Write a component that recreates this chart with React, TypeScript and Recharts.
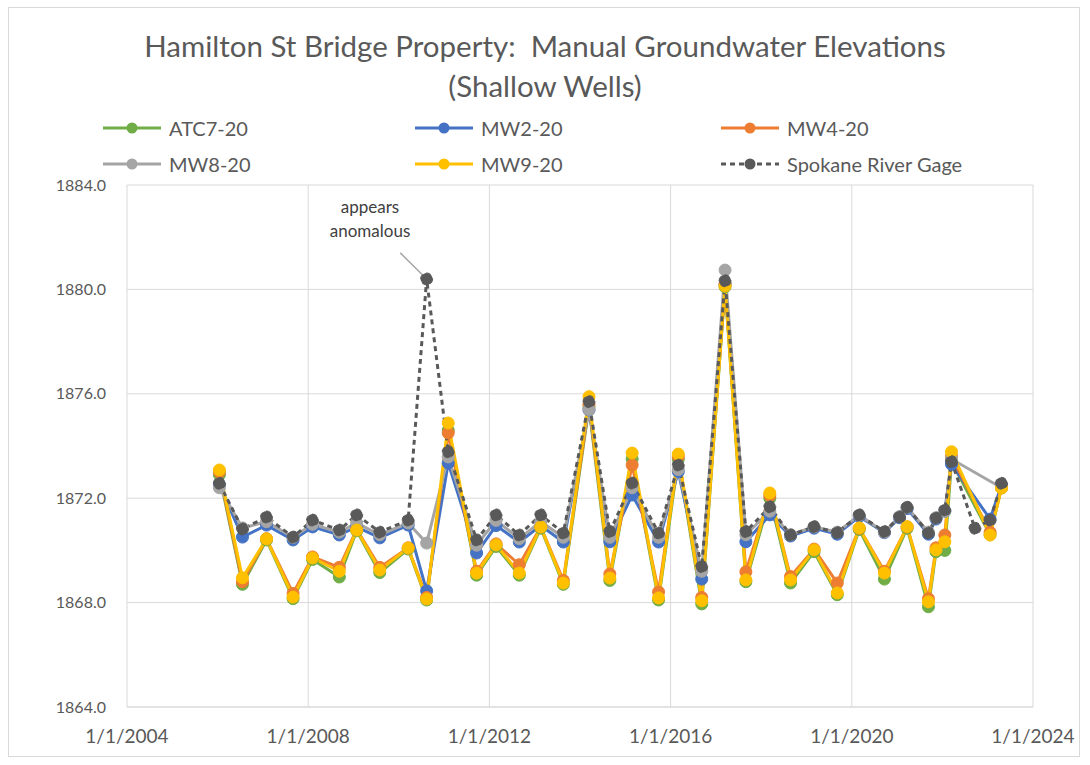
import {
  LineChart,
  Line,
  XAxis,
  YAxis,
  CartesianGrid,
  ReferenceLine,
} from 'recharts';

// sampling dates (approximate)
const DATES = [
  '2006-01-15', '2006-07-20', '2007-01-30', '2007-09-01', '2008-02-05', '2008-09-08',
  '2009-01-26', '2009-07-31', '2010-03-17', '2010-08-13', '2011-02-03', '2011-09-20',
  '2012-02-24', '2012-08-29', '2013-02-18', '2013-08-19', '2014-03-14', '2014-08-29',
  '2015-02-25', '2015-09-26', '2016-03-03', '2016-09-08', '2017-03-15', '2017-08-30',
  '2018-03-11', '2018-08-25', '2019-03-03', '2019-09-06', '2020-03-01', '2020-09-20',
  '2021-01-20', '2021-03-22', '2021-09-10', '2021-11-10', '2022-01-20', '2022-03-15',
  '2022-09-20', '2023-01-20', '2023-04-22',
];

const ATC7_20 = [
  1872.9, 1868.7, 1870.4, 1868.15, 1869.65, 1868.98, 1870.75, 1869.15, 1870.05, 1868.1,
  1874.6, 1869.05, 1870.15, 1869.05, 1870.85, 1868.7, 1875.5, 1868.85, 1873.5, 1868.1,
  1873.5, 1867.95, 1880.1, 1868.8, 1872.0, 1868.75, 1869.95, 1868.3, 1870.8, 1868.9,
  null, 1870.85, 1867.84, 1869.95, 1870.0, 1873.4, null, 1870.6, 1872.4,
];

const MW2_20 = [
  1872.5, 1870.51, 1870.97, 1870.4, 1870.9, 1870.59, 1870.9, 1870.48, 1870.97, 1868.45,
  1873.35, 1869.9, 1870.95, 1870.32, 1870.95, 1870.32, 1875.38, 1870.33, 1872.12, 1870.32,
  1873.02, 1868.9, 1880.2, 1870.33, 1871.36, 1870.55, 1870.85, 1870.62, 1871.3, 1870.68,
  1871.25, 1871.6, 1870.62, 1871.2, 1871.5, 1873.3, null, 1871.2, 1872.5,
];

const MW4_20 = [
  1873.0, 1868.8, 1870.45, 1868.35, 1869.75, 1869.35, 1870.8, 1869.35, 1870.1, 1868.2,
  1874.5, 1869.2, 1870.25, 1869.45, 1870.9, 1868.85, 1875.6, 1869.1, 1873.27, 1868.41,
  1873.6, 1868.2, 1880.2, 1869.18, 1872.1, 1869.0, 1870.05, 1868.75, 1870.85, 1869.2,
  null, 1870.9, 1868.15, 1870.1, 1870.59, 1873.6, null, 1870.7, 1872.4,
];

const MW8_20 = [
  1872.4, 1870.86, 1871.1, 1870.5, 1871.0, 1870.7, 1871.05, 1870.6, 1871.05, 1870.28,
  1873.58, 1870.2, 1871.15, 1870.45, 1871.1, 1870.5, 1875.4, 1870.5, 1872.4, 1870.5,
  1873.1, 1869.2, 1880.74, 1870.6, 1871.5, 1870.6, 1870.9, 1870.7, 1871.35, 1870.7,
  1871.3, 1871.65, 1870.7, 1871.25, 1871.5, 1873.5, null, null, 1872.4,
];

const MW9_20 = [
  1873.08, 1868.95, 1870.44, 1868.21, 1869.71, 1869.2, 1870.78, 1869.25, 1870.09, 1868.14,
  1874.88, 1869.13, 1870.21, 1869.13, 1870.9, 1868.75, 1875.89, 1868.94, 1873.73, 1868.18,
  1873.69, 1868.07, 1880.13, 1868.87, 1872.2, 1868.87, 1870.02, 1868.37, 1870.86, 1869.13,
  null, 1870.91, 1868.03, 1870.02, 1870.33, 1873.78, null, 1870.59, 1872.39,
];

const SPOKANE_GAGE = [
  1872.57, 1870.82, 1871.28, 1870.51, 1871.16, 1870.78, 1871.36, 1870.7, 1871.16, 1880.4,
  1873.78, 1870.4, 1871.36, 1870.59, 1871.36, 1870.67, 1875.7, 1870.72, 1872.58, 1870.67,
  1873.27, 1869.38, 1880.33, 1870.72, 1871.67, 1870.59, 1870.91, 1870.68, 1871.36, 1870.72,
  1871.28, 1871.65, 1870.67, 1871.24, 1871.55, 1873.4, 1870.85, 1871.16, 1872.57,
];

const X_TICKS = ['2004-01-01', '2008-01-01', '2012-01-01', '2016-01-01', '2020-01-01', '2024-01-01'];
const Y_TICKS = [1864, 1868, 1872, 1876, 1880, 1884];

const toTs = (s: string) => Date.parse(s + 'T00:00:00Z');

const SERIES = [
  { key: 'atc7', name: 'ATC7-20', color: '#70AD47', values: ATC7_20 },
  { key: 'mw2', name: 'MW2-20', color: '#4472C4', values: MW2_20 },
  { key: 'mw4', name: 'MW4-20', color: '#ED7D31', values: MW4_20 },
  { key: 'mw8', name: 'MW8-20', color: '#A5A5A5', values: MW8_20 },
  { key: 'mw9', name: 'MW9-20', color: '#FFC000', values: MW9_20 },
  { key: 'gage', name: 'Spokane River Gage', color: '#595959', values: SPOKANE_GAGE, dashed: true },
];

const data = DATES.map((d, i) => {
  const row: Record<string, number | null> = { t: toTs(d) };
  SERIES.forEach((s) => {
    row[s.key] = s.values[i];
  });
  return row;
});

const xTicks = X_TICKS.map(toTs);
const TEXT = '#595959';

// leader line of the note, from the text to the gage point
const NOTE_FROM = { x: toTs('2010-01-12'), y: 1881.4 };
const NOTE_TO = { x: toTs('2010-08-13'), y: 1880.4 };

function LegendItem({ s }: { s: (typeof SERIES)[number] }) {
  return (
    <div style={{ display: 'flex', alignItems: 'center', height: 36 }}>
      <svg width={62} height={14} style={{ marginRight: 6 }}>
        <line
          x1={2}
          y1={7}
          x2={60}
          y2={7}
          stroke={s.color}
          strokeWidth={3}
          strokeDasharray={s.dashed ? '5 4' : undefined}
        />
        <circle cx={31} cy={7} r={5.5} fill={s.color} />
      </svg>
      <span>{s.name}</span>
    </div>
  );
}

export default function App() {
  return (
    <div
      style={{
        position: 'absolute',
        left: 0,
        top: 0,
        width: 1090,
        height: 765,
        background: '#fff',
        fontFamily: 'Lato, sans-serif',
        color: TEXT,
      }}
    >
      <div
        style={{
          position: 'absolute',
          left: 8,
          top: 7,
          width: 1072,
          height: 750,
          border: '1px solid #d9d9d9',
          boxSizing: 'border-box',
        }}
      />
      <div
        style={{
          position: 'absolute',
          top: 26,
          left: 0,
          width: 1090,
          textAlign: 'center',
          fontSize: 29.5,
          lineHeight: '40px',
          whiteSpace: 'pre',
        }}
      >
        {'Hamilton St Bridge Property:  Manual Groundwater Elevations\n(Shallow Wells)'}
      </div>
      <div
        style={{
          position: 'absolute',
          top: 110,
          left: 101,
          display: 'grid',
          gridTemplateColumns: '312px 306px 300px',
          fontSize: 20,
        }}
      >
        {SERIES.map((s) => (
          <LegendItem key={s.key} s={s} />
        ))}
      </div>
      <div
        style={{
          position: 'absolute',
          top: 195,
          left: 310,
          width: 120,
          textAlign: 'center',
          fontSize: 17,
          lineHeight: '24px',
          color: '#404040',
        }}
      >
        appears
        <br />
        anomalous
      </div>
      <LineChart
        width={1090}
        height={765}
        data={data}
        margin={{ top: 185, right: 57, bottom: 18, left: 0 }}
      >
        <CartesianGrid stroke="#d9d9d9" />
        <XAxis
          dataKey="t"
          type="number"
          domain={[xTicks[0], xTicks[xTicks.length - 1]]}
          ticks={xTicks}
          tickFormatter={(v: number) => `1/1/${new Date(v).getUTCFullYear()}`}
          tick={{ fontSize: 19, fill: TEXT }}
          tickLine={false}
          axisLine={{ stroke: '#d9d9d9' }}
          tickMargin={17}
          height={40}
        />
        <YAxis
          type="number"
          domain={[1864, 1884]}
          ticks={Y_TICKS}
          tickFormatter={(v: number) => v.toFixed(1)}
          tick={{ fontSize: 16, fill: TEXT }}
          tickLine={false}
          axisLine={false}
          tickMargin={15}
          width={127}
        />
        <ReferenceLine
          segment={[NOTE_FROM, NOTE_TO]}
          stroke="#a5a5a5"
          strokeWidth={1.5}
          ifOverflow="visible"
        />
        {SERIES.map((s) => (
          <Line
            key={s.key}
            dataKey={s.key}
            name={s.name}
            stroke={s.color}
            strokeWidth={3}
            strokeDasharray={s.dashed ? '5 4' : undefined}
            dot={{ r: 6, fill: s.color, stroke: s.color, strokeWidth: 1 }}
            activeDot={false}
            connectNulls
            isAnimationActive={false}
          />
        ))}
      </LineChart>
    </div>
  );
}
